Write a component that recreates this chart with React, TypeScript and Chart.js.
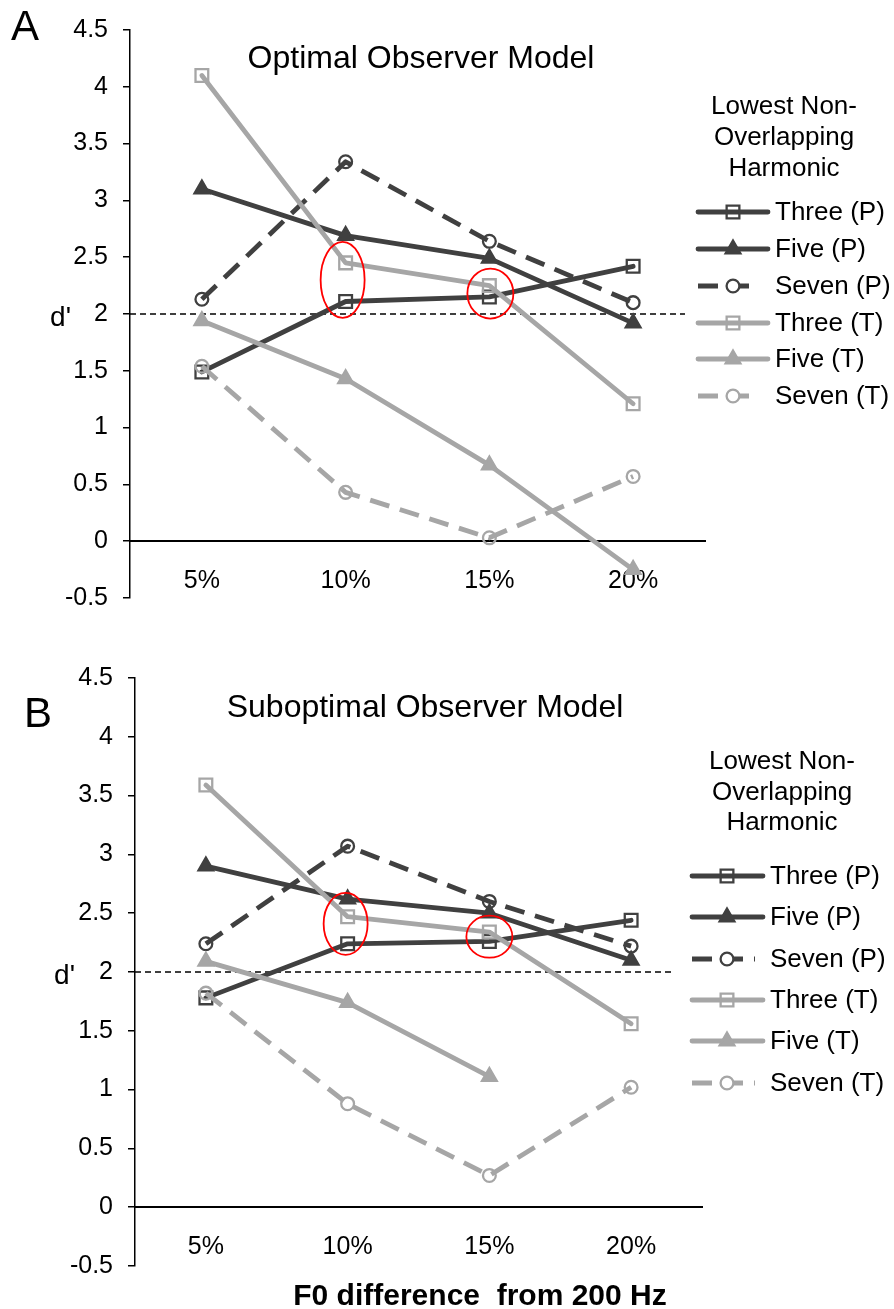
import React, { useEffect, useRef } from "react";
import { Chart, registerables } from "chart.js";

Chart.register(...registerables);

// ---------- data ----------
const categories = ["5%", "10%", "15%", "20%"];
const seriesNames = ["Three (P)", "Five (P)", "Seven (P)", "Three (T)", "Five (T)", "Seven (T)"];

const optThreeP = [1.49, 2.11, 2.15, 2.42];
const optFiveP = [3.1, 2.69, 2.49, 1.92];
const optSevenP = [2.13, 3.34, 2.64, 2.1];
const optThreeT = [4.1, 2.45, 2.25, 1.21];
const optFiveT = [1.94, 1.43, 0.67, -0.25];
const optSevenT = [1.54, 0.43, 0.03, 0.57];

const subThreeP = [1.78, 2.24, 2.26, 2.44];
const subFiveP = [2.9, 2.62, 2.5, 2.1];
const subSevenP = [2.24, 3.07, 2.6, 2.22];
const subThreeT = [3.59, 2.47, 2.34, 1.56];
const subFiveT = [2.09, 1.74, 1.11, null];
const subSevenT = [1.82, 0.88, 0.27, 1.02];

const yMin = -0.5;
const yMax = 4.5;
const yStep = 0.5;
const referenceValue = 2;

const legendTitle = ["Lowest Non-", "Overlapping", "Harmonic"];
const xAxisTitle = "F0 difference  from 200 Hz";

// ---------- styles ----------
const FONT = "'Liberation Sans', Arial, Helvetica, sans-serif";
const DARK = "#404040";
const LIGHT = "#a6a6a6";
const LINE_W = 4.8;
const DASH = [20, 11];

type Marker = "rect" | "triangle" | "circle";
const seriesStyles: { color: string; marker: Marker; dashed: boolean }[] = [
  { color: DARK, marker: "rect", dashed: false },
  { color: DARK, marker: "triangle", dashed: false },
  { color: DARK, marker: "circle", dashed: true },
  { color: LIGHT, marker: "rect", dashed: false },
  { color: LIGHT, marker: "triangle", dashed: false },
  { color: LIGHT, marker: "circle", dashed: true },
];
const markerRadius: Record<Marker, number> = { rect: 9, triangle: 8.5, circle: 6.4 };
const MARKER_BW = 2.3;

function drawMarker(ctx: CanvasRenderingContext2D, m: Marker, x: number, y: number, color: string) {
  const r = markerRadius[m];
  ctx.save();
  ctx.setLineDash([]);
  ctx.lineWidth = MARKER_BW;
  ctx.strokeStyle = color;
  ctx.fillStyle = color;
  ctx.beginPath();
  if (m === "rect") {
    const s = Math.SQRT1_2 * r;
    ctx.rect(x - s, y - s, 2 * s, 2 * s);
    ctx.stroke();
  } else if (m === "circle") {
    ctx.arc(x, y, r, 0, Math.PI * 2);
    ctx.stroke();
  } else {
    let rad = 0;
    ctx.moveTo(x + Math.sin(rad) * r, y - Math.cos(rad) * r);
    rad += (2 * Math.PI) / 3;
    ctx.lineTo(x + Math.sin(rad) * r, y - Math.cos(rad) * r);
    rad += (2 * Math.PI) / 3;
    ctx.lineTo(x + Math.sin(rad) * r, y - Math.cos(rad) * r);
    ctx.closePath();
    ctx.fill();
    ctx.stroke();
  }
  ctx.restore();
}

type PanelCfg = {
  canvasH: number;
  padding: { left: number; right: number; top: number; bottom: number };
  axisWidth: number;
  series: (number | null)[][];
  letter: string;
  letterPos: [number, number];
  title: string;
  titlePos: [number, number];
  refEnd: number;
  dLabelRight: number;
  ellipses: { cat: number; value: number; dx: number; rx: number; ry: number }[];
  legend: { titleX: number; titleY: number[]; entryY: number[]; x0: number; x1: number; mx: number; tx: number };
  xTitle?: { x: number; y: number };
};

const optimalCfg: PanelCfg = {
  canvasH: 640,
  padding: { left: 0, right: 189, top: 21, bottom: 42 },
  axisWidth: 130,
  series: [optThreeP, optFiveP, optSevenP, optThreeT, optFiveT, optSevenT],
  letter: "A",
  letterPos: [11, 40],
  title: "Optimal Observer Model",
  titlePos: [421, 59],
  refEnd: 685,
  dLabelRight: 71,
  ellipses: [
    { cat: 1, value: 2.3, dx: -3, rx: 22, ry: 38 },
    { cat: 2, value: 2.18, dx: 1, rx: 23, ry: 25 },
  ],
  legend: {
    titleX: 784,
    titleY: [107, 138, 169],
    entryY: [212, 249, 286, 323, 359, 396],
    x0: 698,
    x1: 768,
    mx: 733,
    tx: 775,
  },
};

const suboptimalCfg: PanelCfg = {
  canvasH: 669,
  padding: { left: 0, right: 192, top: 38, bottom: 43 },
  axisWidth: 135,
  series: [subThreeP, subFiveP, subSevenP, subThreeT, subFiveT, subSevenT],
  letter: "B",
  letterPos: [24, 87],
  title: "Suboptimal Observer Model",
  titlePos: [425, 68],
  refEnd: 673,
  dLabelRight: 75,
  ellipses: [
    { cat: 1, value: 2.41, dx: -2, rx: 22, ry: 31 },
    { cat: 2, value: 2.3, dx: 0, rx: 23, ry: 21 },
  ],
  legend: {
    titleX: 782,
    titleY: [122, 153, 183],
    entryY: [236, 277, 319, 360, 401, 443],
    x0: 692,
    x1: 763,
    mx: 727,
    tx: 770,
  },
  xTitle: { x: 480, y: 665 },
};

function makePlugin(cfg: PanelCfg) {
  return {
    id: "panelDecor",
    beforeDatasetsDraw(chart: any) {
      const ctx: CanvasRenderingContext2D = chart.ctx;
      const ys = chart.scales.y;
      const py = ys.getPixelForValue(referenceValue);
      ctx.save();
      ctx.strokeStyle = "#000";
      ctx.lineWidth = 1.6;
      ctx.setLineDash([6, 4]);
      ctx.beginPath();
      ctx.moveTo(chart.chartArea.left, py);
      ctx.lineTo(cfg.refEnd, py);
      ctx.stroke();
      ctx.restore();
    },
    afterDatasetsDraw(chart: any) {
      const ctx: CanvasRenderingContext2D = chart.ctx;
      const xs = chart.scales.x;
      const ys = chart.scales.y;
      ctx.save();
      ctx.strokeStyle = "#ff0000";
      ctx.lineWidth = 1.8;
      cfg.ellipses.forEach((e) => {
        const cx = xs.getPixelForValue(e.cat) + e.dx;
        const cy = ys.getPixelForValue(e.value);
        ctx.beginPath();
        ctx.ellipse(cx, cy, e.rx, e.ry, 0, 0, Math.PI * 2);
        ctx.stroke();
      });
      ctx.restore();
    },
    afterDraw(chart: any) {
      const ctx: CanvasRenderingContext2D = chart.ctx;
      const ys = chart.scales.y;
      ctx.save();
      ctx.fillStyle = "#000";
      ctx.font = `42px ${FONT}`;
      ctx.textAlign = "left";
      ctx.textBaseline = "alphabetic";
      ctx.fillText(cfg.letter, cfg.letterPos[0], cfg.letterPos[1]);
      ctx.font = `32px ${FONT}`;
      ctx.textAlign = "center";
      ctx.textBaseline = "middle";
      ctx.fillText(cfg.title, cfg.titlePos[0], cfg.titlePos[1]);
      ctx.font = `28px ${FONT}`;
      ctx.textAlign = "right";
      ctx.textBaseline = "alphabetic";
      ctx.fillText("d'", cfg.dLabelRight, ys.getPixelForValue(referenceValue) + 12);
      ctx.font = `26px ${FONT}`;
      ctx.textAlign = "center";
      ctx.textBaseline = "middle";
      legendTitle.forEach((t, i) => ctx.fillText(t, cfg.legend.titleX, cfg.legend.titleY[i]));
      const L = cfg.legend;
      seriesNames.forEach((name, i) => {
        const st = seriesStyles[i];
        const y = L.entryY[i];
        ctx.save();
        ctx.strokeStyle = st.color;
        ctx.lineWidth = LINE_W;
        ctx.lineCap = st.dashed ? "butt" : "round";
        ctx.setLineDash(st.dashed ? DASH : []);
        ctx.beginPath();
        ctx.moveTo(L.x0, y);
        ctx.lineTo(st.dashed ? L.x1 - 8 : L.x1, y);
        ctx.stroke();
        ctx.restore();
        if (st.marker === "circle") {
          ctx.save();
          ctx.fillStyle = "#fff";
          ctx.beginPath();
          ctx.arc(L.mx, y, markerRadius.circle, 0, Math.PI * 2);
          ctx.fill();
          ctx.restore();
        }
        drawMarker(ctx, st.marker, L.mx, y, st.color);
        ctx.fillStyle = "#000";
        ctx.font = `26px ${FONT}`;
        ctx.textAlign = "left";
        ctx.textBaseline = "middle";
        ctx.fillText(name, L.tx, y + 1);
      });
      if (cfg.xTitle) {
        ctx.font = `bold 30px ${FONT}`;
        ctx.textAlign = "center";
        ctx.textBaseline = "alphabetic";
        ctx.fillStyle = "#000";
        ctx.fillText(xAxisTitle, cfg.xTitle.x, cfg.xTitle.y);
      }
      ctx.restore();
    },
  };
}

function Panel({ cfg }: { cfg: PanelCfg }) {
  const ref = useRef<HTMLCanvasElement | null>(null);
  useEffect(() => {
    if (!ref.current) return;
    const datasets = cfg.series.map((data, i) => {
      const st = seriesStyles[i];
      return {
        label: seriesNames[i],
        data,
        borderColor: st.color,
        backgroundColor: st.color,
        borderWidth: LINE_W,
        borderDash: st.dashed ? DASH : [],
        borderCapStyle: st.dashed ? "butt" : "round",
        borderJoinStyle: "round",
        pointStyle: st.marker,
        pointRadius: markerRadius[st.marker],
        pointHoverRadius: markerRadius[st.marker],
        pointBorderWidth: MARKER_BW,
        pointBorderColor: st.color,
        pointBackgroundColor: st.marker === "triangle" ? st.color : "rgba(0,0,0,0)",
        tension: 0,
        fill: false,
        spanGaps: false,
        order: 10 - i,
      };
    });
    const chart = new Chart(ref.current, {
      type: "line",
      data: { labels: categories, datasets: datasets as any },
      options: {
        animation: false,
        responsive: false,
        devicePixelRatio: 1,
        layout: { padding: cfg.padding },
        plugins: {
          legend: { display: false },
          title: { display: false },
          tooltip: { enabled: false },
        },
        scales: {
          x: {
            type: "category",
            offset: true,
            position: { y: 0 } as any,
            grid: { display: false },
            border: { display: true, color: "#000", width: 2 },
            ticks: {
              color: "#000",
              font: { size: 25, family: FONT },
              padding: 17,
              maxRotation: 0,
              autoSkip: false,
            },
          },
          y: {
            type: "linear",
            position: "left",
            min: yMin,
            max: yMax,
            ticks: {
              stepSize: yStep,
              color: "#000",
              font: { size: 25, family: FONT },
              padding: 15,
              callback: (v: any) => String(Math.round(Number(v) * 10) / 10),
            },
            grid: {
              drawOnChartArea: false,
              drawTicks: true,
              tickLength: 7,
              color: "#000",
              lineWidth: 1.5,
            },
            border: { display: true, color: "#000", width: 1.5 },
            afterFit: (scale: any) => {
              scale.width = cfg.axisWidth;
            },
          },
        },
      },
      plugins: [makePlugin(cfg) as any],
    });
    return () => chart.destroy();
  }, [cfg]);
  return (
    <canvas
      ref={ref}
      width={894}
      height={cfg.canvasH}
      style={{ display: "block", width: 894, height: cfg.canvasH }}
    />
  );
}

export default function App() {
  return (
    <div style={{ position: "absolute", left: 0, top: 0, width: 894, height: 1309, background: "#fff" }}>
      <Panel cfg={optimalCfg} />
      <Panel cfg={suboptimalCfg} />
    </div>
  );
}
